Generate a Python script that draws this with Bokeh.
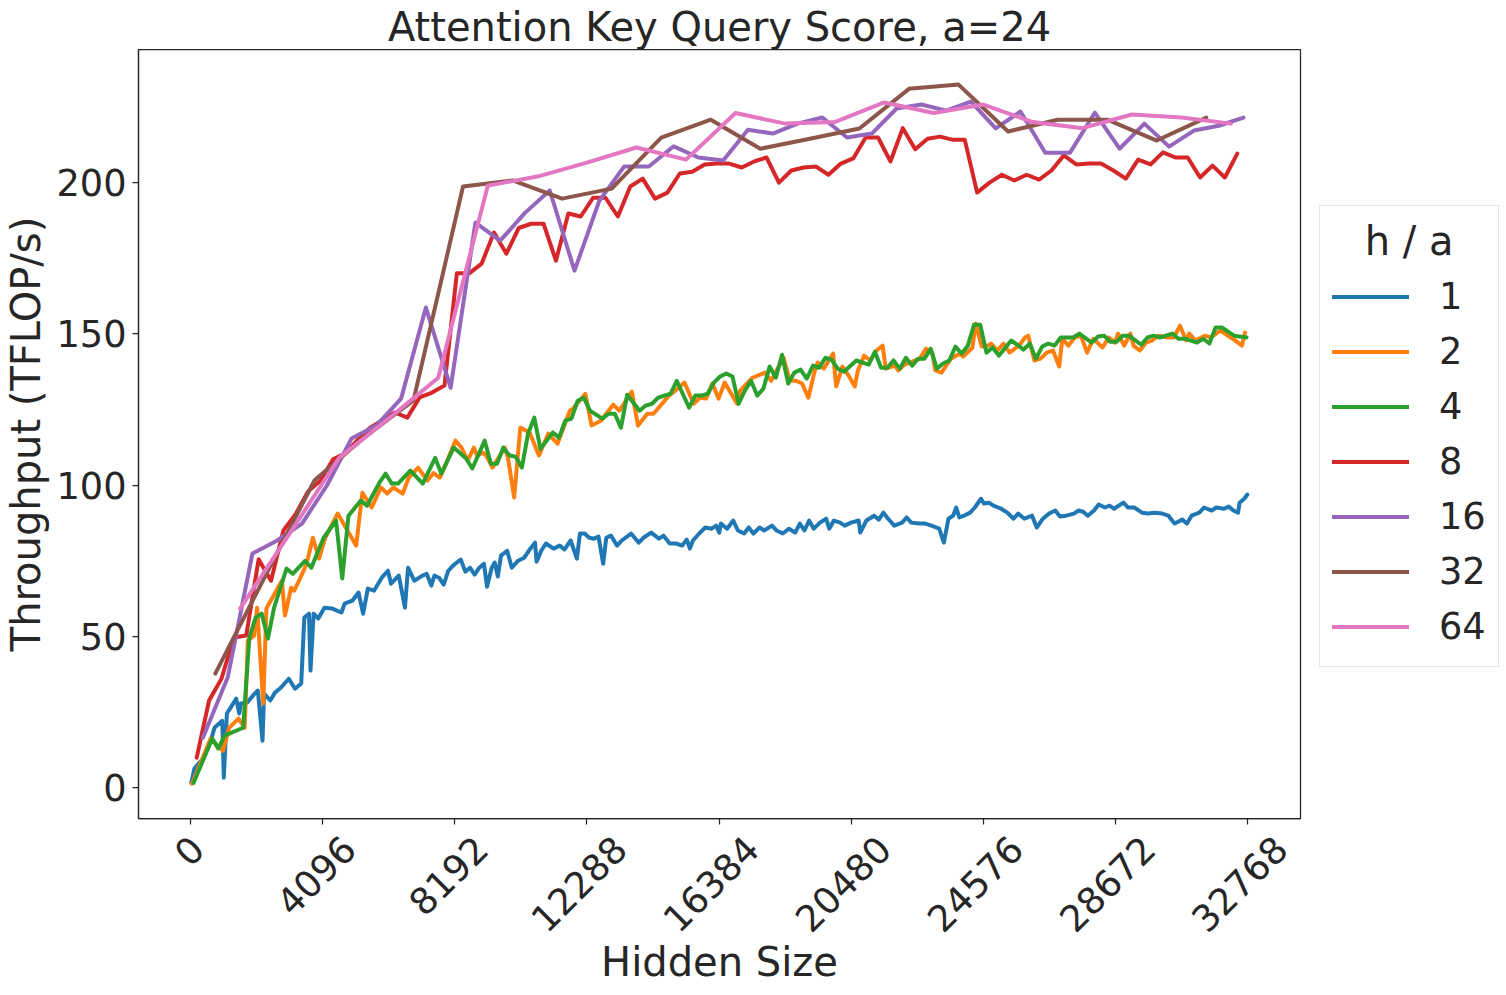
import math
from bokeh.plotting import figure
from bokeh.models import Range1d, FixedTicker, Legend, LegendItem, LinearAxis
from bokeh.embed import file_html
from bokeh.resources import INLINE

# ---------------- data ----------------
s1_hidden = [24, 120, 408, 648, 744, 984, 1032, 1128, 1224, 1416, 1512, 1560, 1752, 1992, 2088, 2232, 2280, 2472, 2616, 2808,
             3048, 3240, 3432, 3528, 3672, 3720, 3816, 3960, 4152, 4392, 4680, 4776, 5016, 5208, 5352, 5496, 5688, 5928, 6120, 6216,
             6456, 6648, 6744, 6936, 7176, 7320, 7464, 7560, 7704, 7848, 7992, 8136, 8376, 8520, 8664, 8808, 8952, 9096, 9192, 9336,
             9432, 9528, 9624, 9816, 9960, 10152, 10344, 10488, 10680, 10728, 10872, 11016, 11256, 11448, 11592, 11784, 11976, 12072, 12216, 12360,
             12504, 12648, 12792, 12888, 13032, 13224, 13368, 13656, 13896, 14040, 14280, 14520, 14664, 14856, 15048, 15240, 15384, 15480, 15576, 15768,
             15960, 16152, 16296, 16392, 16440, 16632, 16824, 16968, 17160, 17304, 17448, 17640, 17784, 18024, 18168, 18360, 18552, 18744, 18888, 19032,
             19176, 19320, 19512, 19704, 19800, 19944, 20136, 20280, 20472, 20712, 20760, 20952, 21192, 21336, 21480, 21624, 21816, 22056, 22200, 22344,
             22584, 22776, 22968, 23208, 23352, 23496, 23640, 23736, 23832, 23976, 24168, 24312, 24504, 24600, 24744, 24888, 25032, 25128, 25320, 25512,
             25656, 25848, 26088, 26232, 26424, 26616, 26808, 26952, 27144, 27384, 27528, 27672, 27816, 28008, 28152, 28344, 28488, 28632, 28920, 29064,
             29256, 29496, 29688, 29880, 30120, 30312, 30504, 30744, 30888, 31032, 31272, 31416, 31656, 31800, 32040, 32184, 32328, 32472, 32520, 32664,
             32760]
s1_tflops = [1.6, 6.3, 9.9, 16.2, 19.8, 22.1, 3.3, 24.5, 26.1, 29.4, 24.5, 27.8, 28.1, 31.1, 32.1, 15.5, 31.1, 28.8, 31.4, 33.1,
             36.0, 32.7, 34.4, 56.2, 57.5, 38.7, 57.5, 55.9, 59.5, 59.2, 57.9, 60.8, 61.8, 64.5, 57.5, 65.8, 65.1, 69.4, 71.7, 67.4,
             70.1, 59.5, 72.7, 68.4, 70.0, 70.7, 66.8, 70.1, 69.4, 67.1, 71.7, 73.4, 75.4, 71.4, 72.7, 70.4, 72.7, 74.0, 66.4, 72.7,
             74.4, 69.8, 76.7, 78.3, 72.7, 75.0, 76.0, 78.3, 81.0, 74.7, 78.3, 80.7, 79.0, 80.0, 78.7, 81.7, 75.7, 84.0, 84.0, 82.6,
             82.3, 83.0, 74.0, 82.6, 83.3, 80.0, 81.7, 84.0, 81.0, 82.6, 84.3, 82.3, 83.3, 80.7, 80.7, 80.0, 82.0, 79.0, 81.7, 84.0,
             86.0, 85.6, 86.6, 84.3, 87.3, 85.6, 88.3, 85.0, 84.0, 86.0, 84.0, 86.0, 85.0, 86.6, 85.0, 84.0, 85.6, 84.3, 87.3, 85.0,
             88.3, 85.6, 87.6, 88.9, 85.6, 88.3, 87.6, 86.6, 87.6, 88.3, 84.3, 88.3, 89.9, 88.6, 90.9, 88.9, 86.6, 87.6, 89.3, 87.6,
             87.3, 87.3, 86.6, 85.6, 81.0, 88.9, 89.9, 92.6, 89.3, 89.9, 90.9, 92.6, 95.5, 93.9, 94.2, 93.2, 92.6, 92.2, 90.9, 88.9,
             90.6, 88.9, 89.9, 86.0, 88.9, 90.6, 91.6, 89.6, 89.9, 90.6, 91.6, 91.2, 89.9, 91.6, 93.6, 92.6, 93.2, 92.2, 94.2, 92.6,
             92.6, 90.9, 90.6, 90.9, 90.6, 89.9, 87.3, 88.6, 87.3, 89.9, 90.9, 92.6, 91.6, 92.6, 92.2, 92.9, 91.6, 90.9, 94.2, 95.5,
             96.9]

s2_hidden = [48, 624, 1008, 1200, 1488, 1680, 1776, 1968, 2064, 2256, 2352, 2832, 2928, 3120, 3216, 3408, 3600, 3792, 3984, 4176,
             4560, 4656, 5136, 5328, 5616, 5904, 6096, 6288, 6576, 6768, 7056, 7344, 7536, 7728, 7920, 8208, 8400, 8592, 8784, 8880,
             9072, 9168, 9360, 9744, 9840, 10032, 10224, 10512, 10800, 11088, 11376, 11760, 11856, 12240, 12432, 12720, 13104, 13296, 13680, 13872,
             14160, 14352, 14832, 15024, 15312, 15600, 15792, 15984, 16176, 16368, 16560, 16944, 17040, 17424, 17808, 18000, 18384, 18576, 18768, 18960,
             19152, 19344, 19440, 19632, 19920, 20016, 20208, 20400, 20592, 20688, 20880, 21072, 21264, 21456, 21552, 21840, 21936, 22128, 22608, 22800,
             22992, 23088, 23280, 23568, 23856, 23952, 24240, 24336, 24528, 24720, 24816, 25008, 25200, 25392, 25680, 25872, 25968, 26160, 26352, 26544,
             26736, 26928, 27024, 27216, 27408, 27600, 27792, 27984, 28272, 28464, 28656, 28752, 28944, 29136, 29232, 29424, 29616, 29808, 30000, 30288,
             30480, 30672, 30864, 30960, 31152, 31440, 31632, 31920, 32016, 32304, 32592, 32688]
s2_tflops = [1.3, 16.2, 12.2, 19.8, 22.8, 19.8, 48.6, 50.2, 59.5, 27.8, 59.2, 68.4, 56.9, 66.1, 65.1, 69.4, 74.0, 82.6, 75.7, 82.6,
             90.6, 88.9, 80.0, 97.5, 92.6, 99.2, 97.2, 99.2, 97.2, 102.5, 105.8, 101.5, 104.0, 102.5, 107.1, 114.7, 112.4, 108.1, 112.4, 109.8,
             110.7, 109.8, 105.8, 112.4, 109.1, 95.9, 119.0, 117.4, 109.8, 117.0, 113.7, 124.6, 125.3, 130.2, 119.7, 121.3, 126.6, 124.6, 130.9, 119.7,
             123.6, 123.6, 129.6, 131.2, 133.9, 126.9, 128.9, 128.6, 133.6, 128.6, 133.9, 126.9, 131.2, 135.5, 137.2, 134.5, 142.1, 134.5, 134.5, 133.6,
             128.9, 137.5, 140.5, 138.5, 143.5, 132.6, 139.2, 136.2, 132.6, 137.9, 142.8, 141.2, 144.5, 146.1, 138.5, 139.5, 137.9, 139.8, 141.8, 145.1,
             143.8, 137.9, 137.2, 141.8, 143.5, 142.5, 145.5, 153.4, 145.8, 146.1, 146.8, 144.5, 146.8, 143.8, 146.1, 148.8, 149.4, 141.2, 141.8, 143.8,
             144.5, 139.2, 148.4, 146.1, 148.8, 149.4, 143.8, 148.4, 145.5, 148.8, 147.1, 150.1, 146.1, 150.1, 146.1, 144.5, 147.1, 147.8, 149.4, 148.8,
             148.8, 152.7, 147.8, 150.1, 147.8, 149.4, 148.8, 151.1, 150.4, 148.4, 146.1, 150.4]

s4_hidden = [96, 672, 864, 1056, 1632, 1824, 2016, 2208, 2400, 2592, 2976, 3168, 3552, 3744, 4128, 4512, 4704, 4896, 5280, 5472,
             5856, 6048, 6240, 6432, 6816, 7200, 7584, 7776, 8160, 8544, 8736, 9120, 9312, 9504, 9696, 9888, 10080, 10272, 10464, 10656,
             10848, 11232, 11424, 11616, 11808, 12000, 12192, 12384, 12768, 12960, 13152, 13344, 13536, 13920, 14112, 14304, 14496, 14880, 15072, 15456,
             15648, 15840, 16032, 16224, 16416, 16608, 16800, 16992, 17184, 17376, 17568, 17760, 17952, 18144, 18336, 18528, 18720, 18912, 19104, 19296,
             19488, 19680, 19872, 20064, 20256, 20640, 21024, 21216, 21408, 21600, 21792, 21984, 22176, 22368, 22560, 22752, 22944, 23136, 23328, 23520,
             23712, 23904, 24096, 24288, 24480, 24672, 24864, 25056, 25440, 25632, 25824, 26016, 26208, 26400, 26592, 26784, 26976, 27360, 27552, 27936,
             28128, 28320, 28512, 28704, 28896, 29088, 29472, 29664, 29856, 30048, 30432, 30624, 30816, 31200, 31392, 31584, 31776, 31968, 32352, 32736]
s4_tflops = [1.6, 16.2, 12.9, 17.2, 19.8, 49.6, 56.2, 57.5, 49.3, 59.5, 72.4, 70.7, 75.0, 72.7, 82.6, 88.3, 69.1, 89.9, 94.9, 93.2,
             100.8, 103.8, 100.5, 100.5, 104.8, 100.5, 109.0, 103.8, 112.4, 108.8, 105.5, 114.7, 107.1, 107.1, 112.4, 109.8, 109.4, 105.8, 117.0, 122.3,
             112.0, 117.4, 115.7, 121.3, 122.0, 127.9, 128.9, 124.6, 122.0, 123.6, 123.6, 119.0, 129.9, 124.6, 126.3, 126.9, 128.9, 130.2, 134.5, 125.6,
             129.6, 129.6, 130.2, 133.9, 135.9, 136.9, 135.9, 126.9, 131.2, 134.5, 129.6, 131.9, 139.2, 135.5, 143.1, 133.6, 137.2, 138.2, 135.2, 139.5,
             138.8, 142.1, 141.5, 138.5, 137.5, 141.2, 139.8, 144.1, 138.8, 138.8, 141.2, 138.5, 142.1, 139.5, 141.8, 141.8, 145.1, 138.5, 140.2, 141.2,
             145.8, 143.5, 146.1, 153.0, 153.0, 143.8, 145.5, 142.8, 147.8, 146.4, 144.8, 146.8, 141.8, 145.8, 146.8, 146.1, 148.8, 148.8, 150.1, 147.1,
             149.1, 149.4, 147.4, 147.4, 149.4, 149.4, 146.4, 148.8, 149.4, 148.8, 150.1, 148.4, 148.4, 147.1, 148.4, 146.8, 152.1, 152.1, 149.4, 148.8]

s8_hidden = [192, 576, 960, 1344, 1728, 2112, 2496, 2880, 3264, 3648, 4032, 4416, 4800, 5184, 5568, 5952, 6336, 6720, 7104, 7488,
             7872, 8256, 8640, 9024, 9408, 9792, 10176, 10560, 10944, 11328, 11712, 12096, 12480, 12864, 13248, 13632, 14016, 14400, 14784, 15168,
             15552, 15936, 16320, 16704, 17088, 17472, 17856, 18240, 18624, 19008, 19392, 19776, 20160, 20544, 20928, 21312, 21696, 22080, 22464, 22848,
             23232, 23616, 24000, 24384, 24768, 25152, 25536, 25920, 26304, 26688, 27072, 27456, 27840, 28224, 28608, 28992, 29376, 29760, 30144, 30528,
             30912, 31296, 31680, 32064, 32448]
s8_tflops = [9.9, 28.8, 36.0, 49.6, 50.3, 75.5, 68.4, 85.0, 90.5, 98.0, 101.5, 108.5, 110.5, 115.0, 119.0, 121.5, 124.0, 122.3, 129.0, 130.6,
             132.9, 170.0, 170.0, 173.2, 183.5, 176.5, 185.0, 186.4, 186.4, 174.2, 189.8, 188.8, 195.0, 195.0, 188.8, 198.7, 201.3, 194.7, 196.7, 203.0,
             203.6, 206.0, 206.3, 206.3, 205.0, 207.0, 208.3, 200.0, 204.0, 205.0, 205.3, 202.6, 206.3, 208.0, 214.9, 214.9, 207.0, 218.0, 211.0, 214.5,
             215.2, 214.2, 214.2, 196.7, 200.0, 202.6, 200.7, 202.6, 201.0, 204.0, 209.0, 206.0, 206.3, 206.3, 204.0, 201.3, 207.6, 206.0, 210.0, 208.3,
             208.3, 201.7, 205.6, 201.7, 209.6]

s16_hidden = [384, 1152, 1920, 2688, 3456, 4224, 4992, 5760, 6528, 7296, 8064, 8832, 9600, 10368, 11136, 11904, 12672, 13440, 14208, 14976,
              15744, 16512, 17280, 18048, 18816, 19584, 20352, 21120, 21888, 22656, 23424, 24192, 24960, 25728, 26496, 27264, 28032, 28800, 29568, 30336,
              31104, 31872, 32640]
s16_tflops = [16.5, 36.4, 77.4, 81.7, 87.3, 99.8, 115.4, 119.7, 128.6, 158.7, 132.2, 186.8, 180.8, 190.0, 197.4, 170.9, 194.0, 205.3, 205.3, 212.0,
              208.3, 207.3, 217.5, 216.2, 219.5, 221.5, 214.9, 216.2, 224.5, 225.8, 223.8, 226.8, 217.9, 223.5, 209.9, 209.9, 223.1, 211.2, 219.5, 211.9,
              217.2, 218.8, 221.5]

s32_hidden = [768, 2304, 3840, 5376, 6912, 8448, 9984, 11520, 13056, 14592, 16128, 17664, 19200, 20736, 22272, 23808, 25344, 26880, 28416, 29952,
              31488]
s32_tflops = [37.7, 69.7, 101.5, 115.7, 128.0, 198.7, 200.7, 194.7, 198.0, 214.9, 220.8, 211.2, 214.5, 217.9, 231.0, 232.4, 216.9, 220.8, 220.8, 213.9,
              221.5]

s64_hidden = [1536, 3072, 4608, 6144, 7680, 9216, 10752, 12288, 13824, 15360, 16896, 18432, 19968, 21504, 23040, 24576, 26112, 27648, 29184, 30720,
              32256]
s64_tflops = [59.2, 84.0, 109.0, 122.0, 135.5, 199.0, 202.0, 206.6, 211.6, 207.6, 223.0, 219.5, 220.0, 226.5, 223.0, 225.8, 220.0, 218.0, 222.5, 221.5,
              219.5]

series_labels = ["1", "2", "4", "8", "16", "32", "64"]
series_hidden = [s1_hidden, s2_hidden, s4_hidden, s8_hidden, s16_hidden, s32_hidden, s64_hidden]
series_tflops = [s1_tflops, s2_tflops, s4_tflops, s8_tflops, s16_tflops, s32_tflops, s64_tflops]
colors = ["#1f77b4", "#ff7f0e", "#2ca02c", "#d62728", "#9467bd", "#8c564b", "#e377c2"]

x_ticks = [0, 4096, 8192, 12288, 16384, 20480, 24576, 28672, 32768]
x_tick_labels = ["0", "4096", "8192", "12288", "16384", "20480", "24576", "28672", "32768"]
y_ticks = [0, 50, 100, 150, 200]

title_text = "Attention Key Query Score, a=24"
x_label = "Hidden Size"
y_label = "Throughput (TFLOP/s)"
legend_title = "h / a"

# ---------------- figure ----------------
FONT = "DejaVu Sans"
TXT = "#262626"
FW, FH = 1162, 769
X0, X1 = -1612, 34408
TICK_FS = 36.7

p = figure(frame_width=FW, frame_height=FH,
           x_range=Range1d(X0, X1), y_range=Range1d(-10.2, 244),
           output_backend="svg", toolbar_location=None,
           min_border_left=129, min_border_right=199, min_border_top=49, min_border_bottom=150)
p.background_fill_color = "white"
p.border_fill_color = "white"
p.outline_line_color = TXT
p.outline_line_width = 1.25
p.xgrid.visible = False
p.ygrid.visible = False

p.title.text = title_text
p.title.align = "center"
p.title.text_font = FONT
p.title.text_font_size = "40px"
p.title.text_font_style = "normal"
p.title.text_color = TXT
p.title.standoff = 0

def style_axis(ax):
    ax.axis_line_color = TXT
    ax.axis_line_width = 1.25
    ax.major_tick_line_color = TXT
    ax.major_tick_line_width = 1.25
    ax.major_tick_in = 0
    ax.major_tick_out = 6
    ax.minor_tick_line_color = None
    ax.major_label_text_font = FONT
    ax.major_label_text_font_size = f"{TICK_FS}px"
    ax.major_label_text_color = TXT
    ax.axis_label_text_font = FONT
    ax.axis_label_text_font_size = "40px"
    ax.axis_label_text_font_style = "normal"
    ax.axis_label_text_color = TXT

style_axis(p.xaxis[0])
style_axis(p.yaxis[0])
p.yaxis.ticker = FixedTicker(ticks=y_ticks)
p.yaxis.axis_label = y_label
p.yaxis.major_label_standoff = 6
p.yaxis.axis_label_standoff = 4

# x axis: tick marks only (its labels are not drawn; the second axis carries them)
xa = p.xaxis[0]
xa.ticker = FixedTicker(ticks=x_ticks)
xa.major_label_text_font_size = "1px"
xa.major_label_text_color = None
xa.major_label_standoff = 0

# second x axis carrying rotated labels, centred under each tick like matplotlib
px_per_unit = FW / (X1 - X0)
shifted = []
overrides = {}
for t, lab in zip(x_ticks, x_tick_labels):
    w = len(lab) * 0.636 * TICK_FS
    sx = int(round(t + 0.8 * (w / 2) * math.cos(math.pi / 4) / px_per_unit))
    shifted.append(sx)
    overrides[sx] = lab
xb = LinearAxis(ticker=FixedTicker(ticks=shifted), major_label_overrides=overrides)
style_axis(xb)
xb.axis_line_color = None
xb.major_tick_line_color = None
xb.major_tick_out = 0
xb.major_label_orientation = math.pi / 4
xb.major_label_standoff = 18
xb.axis_label = x_label
xb.axis_label_standoff = -8
p.add_layout(xb, "below")

items = []
for lab, hx, ty, col in zip(series_labels, series_hidden, series_tflops, colors):
    r = p.line(hx, ty, line_color=col, line_width=4, line_join="round", line_cap="round")
    items.append(LegendItem(label=lab, renderers=[r]))

legend = Legend(items=items, location=(19, 151), title="\u2002\u00a0" + legend_title,
                title_text_font_size="40px", title_text_font=FONT, title_text_font_style="normal",
                title_text_color=TXT, title_standoff=5,
                label_text_font=FONT, label_text_font_size=f"{TICK_FS}px", label_text_color=TXT,
                glyph_width=77, glyph_height=55, label_height=55, label_standoff=30,
                spacing=0, padding=12, margin=0,
                border_line_color="#cccccc", border_line_width=1.25,
                background_fill_color="white", background_fill_alpha=0.8)
p.add_layout(legend, "right")

open("out.html", "w").write(file_html(p, INLINE))
